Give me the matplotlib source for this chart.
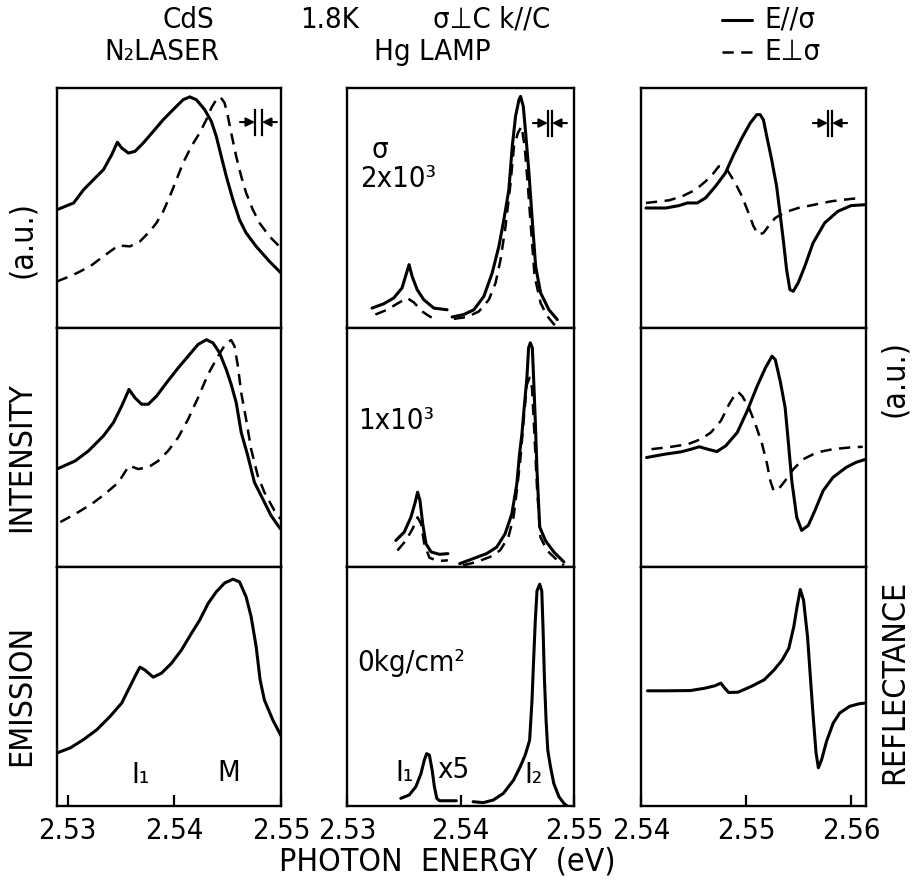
import matplotlib as mpl
mpl.use("Agg")
import matplotlib.pyplot as plt
from matplotlib import font_manager
from matplotlib.lines import Line2D

# ---- data (energy in eV, intensity / reflectance in a.u.) ----
# N2 laser excitation, left column (top: 2x10^3, middle: 1x10^3, bottom: 0 kg/cm2)
las_hi_par_e = [2.5290, 2.53056, 2.53149, 2.53242, 2.53336, 2.53413, 2.53466, 2.53507, 2.53569, 2.53631,
                2.53709, 2.53802, 2.53896, 2.53989, 2.54082, 2.54144, 2.54207, 2.54284, 2.54347, 2.54393,
                2.5444, 2.54487, 2.54549, 2.54611, 2.54673, 2.54767, 2.54891, 2.5500]
las_hi_par_i = [49.3, 52.1, 57.6, 61.8, 66.0, 72.2, 77.4, 75.0, 72.9, 73.6, 77.1, 81.9, 86.8, 91.0, 95.1,
                96.3, 95.1, 91.0, 86.1, 79.9, 71.5, 63.2, 53.5, 45.1, 39.6, 34.0, 27.8, 22.9]
las_hi_perp_e = [2.5290, 2.53056, 2.53211, 2.53336, 2.53476, 2.53584, 2.53678, 2.53771, 2.53833, 2.53896,
                 2.53958, 2.54020, 2.54082, 2.54160, 2.54238, 2.54300, 2.54347, 2.54393, 2.54431, 2.54471,
                 2.54502, 2.54533, 2.54580, 2.54627, 2.54673, 2.54736, 2.54798, 2.54891, 2.5500]
las_hi_perp_i = [19.4, 22.2, 25.7, 29.9, 34.4, 34.0, 36.1, 40.3, 43.8, 48.6, 54.9, 61.8, 68.8, 75.7, 81.3,
                 86.8, 91.7, 95.1, 96.3, 93.8, 88.2, 81.3, 71.5, 63.2, 56.3, 49.3, 43.8, 38.2, 33.3]

las_mid_par_e = [2.5290, 2.53071, 2.53196, 2.53336, 2.53429, 2.53507, 2.53575, 2.53631, 2.53693, 2.53756,
                 2.53833, 2.53927, 2.54036, 2.54129, 2.54222, 2.54300, 2.54362, 2.54424, 2.54487, 2.54533,
                 2.54580, 2.54627, 2.54689, 2.54751, 2.54813, 2.54907, 2.54994]
las_mid_par_i = [41.0, 44.4, 48.6, 54.9, 60.4, 67.4, 74.3, 70.8, 68.1, 68.1, 71.5, 77.1, 83.3, 88.2, 93.1,
                 95.1, 93.8, 89.6, 82.6, 76.4, 68.8, 56.3, 46.5, 35.4, 29.9, 21.5, 16.0]
las_mid_perp_e = [2.52931, 2.53071, 2.53227, 2.53351, 2.53476, 2.53575, 2.53662, 2.53756, 2.53849, 2.53942,
                  2.54036, 2.54129, 2.54222, 2.54316, 2.54409, 2.54487, 2.54533, 2.54564, 2.54596, 2.54627,
                  2.54673, 2.54720, 2.54782, 2.54844, 2.54938, 2.54994]
las_mid_perp_i = [18.8, 22.2, 26.4, 30.6, 35.4, 42.4, 41.0, 41.7, 44.4, 48.6, 54.2, 61.8, 70.8, 80.6, 88.2,
                  93.8, 94.9, 92.4, 84.0, 72.9, 61.8, 49.3, 38.2, 31.3, 23.6, 20.1]

las_low_par_e = [2.5290, 2.53024, 2.53149, 2.53273, 2.53398, 2.53507, 2.53584, 2.53647, 2.53678, 2.53724,
                 2.53802, 2.53880, 2.53973, 2.54067, 2.54160, 2.54238, 2.54316, 2.54393, 2.54471, 2.54549,
                 2.54611, 2.54673, 2.54720, 2.54767, 2.54804, 2.54844, 2.54922, 2.5500]
las_low_par_i = [22.2, 24.3, 27.8, 31.9, 37.5, 43.1, 50.0, 55.6, 58.1, 56.9, 53.9, 55.6, 59.7, 65.3, 72.2,
                 77.8, 84.7, 89.6, 93.3, 94.9, 93.8, 87.5, 79.2, 66.7, 52.8, 44.4, 36.1, 29.4]

# Hg lamp excitation, middle column (I1 and I2 lines)
hg_hi_i1_par_e = [2.53221, 2.53324, 2.53412, 2.53485, 2.53529, 2.53547, 2.53574, 2.53618, 2.53676, 2.53765, 2.53882]
hg_hi_i1_par_i = [8.3, 10.1, 12.5, 16.7, 23.6, 26.4, 21.5, 16.0, 11.8, 8.3, 7.6]
hg_hi_i1_perp_e = [2.53250, 2.53353, 2.53441, 2.53529, 2.53588, 2.53662, 2.53735, 2.53809]
hg_hi_i1_perp_i = [5.6, 7.6, 10.1, 12.5, 10.7, 6.9, 4.6, 3.8]
hg_hi_i2_par_e = [2.53926, 2.54029, 2.54118, 2.54206, 2.54279, 2.54338, 2.54382, 2.54426, 2.54456, 2.54485,
                  2.54515, 2.54529, 2.54553, 2.54574, 2.54603, 2.54632, 2.54662, 2.54706, 2.54779, 2.54853]
hg_hi_i2_par_i = [4.6, 5.6, 7.6, 13.2, 22.9, 34.0, 45.1, 57.6, 75.7, 88.2, 95.1, 96.5, 92.4, 81.3, 64.6,
                  45.1, 25.7, 14.6, 7.6, 3.5]
hg_hi_i2_perp_e = [2.53941, 2.54059, 2.54162, 2.54250, 2.54309, 2.54353, 2.54397, 2.54441, 2.54471, 2.54506,
                   2.54538, 2.54565, 2.54594, 2.54624, 2.54653, 2.54706, 2.54765, 2.54838]
hg_hi_i2_perp_i = [3.8, 4.6, 6.9, 11.8, 18.8, 28.5, 42.4, 60.4, 75.7, 81.3, 84.0, 75.7, 59.0, 39.6, 21.5,
                   10.4, 4.9, 0.7]

hg_mid_i1_par_e = [2.53430, 2.53504, 2.53563, 2.53601, 2.53622, 2.53643, 2.53667, 2.53696, 2.53741, 2.53815, 2.53889]
hg_mid_i1_par_i = [11.1, 14.6, 20.8, 27.1, 31.3, 27.8, 18.1, 9.7, 6.3, 5.3, 5.6]
hg_mid_i1_perp_e = [2.53444, 2.53519, 2.53578, 2.53622, 2.53652, 2.53681, 2.53726, 2.53800, 2.53889]
hg_mid_i1_perp_i = [6.9, 11.1, 16.0, 20.8, 18.1, 9.7, 3.9, 2.5, 2.8]
hg_mid_i2_par_e = [2.53993, 2.54111, 2.54230, 2.54319, 2.54393, 2.54452, 2.54496, 2.54520, 2.54541, 2.54561,
                   2.54585, 2.54600, 2.54615, 2.54633, 2.54644, 2.54659, 2.54674, 2.54698, 2.54748, 2.54822, 2.54911]
hg_mid_i2_par_i = [1.4, 3.5, 5.6, 8.3, 13.9, 22.2, 34.7, 47.2, 55.6, 66.7, 79.2, 91.7, 93.8, 91.7, 79.2,
                   61.1, 40.3, 16.7, 11.1, 6.3, 2.1]
hg_mid_i2_perp_e = [2.54022, 2.54141, 2.54259, 2.54348, 2.54422, 2.54467, 2.54496, 2.54526, 2.54556, 2.54585,
                    2.54609, 2.54630, 2.54650, 2.54674, 2.54704, 2.54763, 2.54837, 2.54911]
hg_mid_i2_perp_i = [0.7, 2.1, 4.2, 6.9, 12.5, 20.8, 31.9, 44.4, 61.1, 76.4, 79.2, 75.0, 56.9, 33.3, 12.5,
                    6.9, 3.5, 0.7]

hg_low_i1_e = [2.53474, 2.53548, 2.53607, 2.53652, 2.53681, 2.53702, 2.53726, 2.53750, 2.53770, 2.53791,
               2.53815, 2.53889, 2.53963]
hg_low_i1_i = [3.2, 4.6, 8.1, 13.6, 19.2, 21.9, 21.3, 15.0, 8.1, 3.2, 2.2, 2.2, 2.2]
hg_low_i2_e = [2.54111, 2.54200, 2.54289, 2.54378, 2.54467, 2.54526, 2.54570, 2.54609, 2.54630, 2.54644,
               2.54659, 2.54674, 2.54698, 2.54716, 2.54727, 2.54739, 2.54754, 2.54769, 2.54793, 2.54822,
               2.54867, 2.54911, 2.54941]
hg_low_i2_i = [1.8, 1.4, 2.5, 5.3, 10.8, 16.4, 21.3, 27.5, 44.2, 60.8, 77.5, 90.0, 92.8, 90.0, 74.7, 53.9,
               35.8, 23.3, 16.4, 9.4, 3.9, 1.1, 0.0]

# reflectance, right column
ref_hi_par_e = [2.54047, 2.54236, 2.54362, 2.54441, 2.54535, 2.54614, 2.54708, 2.54803, 2.54881, 2.54960,
                2.55039, 2.55101, 2.55133, 2.55164, 2.55196, 2.55243, 2.55290, 2.55322, 2.55353, 2.55385,
                2.55416, 2.55448, 2.55495, 2.55558, 2.55636, 2.55747, 2.55872, 2.55998, 2.56140]
ref_hi_par_r = [50.0, 50.0, 51.0, 52.1, 52.1, 54.2, 59.0, 64.6, 72.2, 79.2, 85.4, 88.9, 88.9, 86.8, 79.9,
                70.1, 59.0, 47.9, 36.8, 24.3, 16.0, 15.3, 18.8, 25.7, 35.4, 43.8, 48.6, 51.0, 51.4]
ref_hi_perp_e = [2.54047, 2.54267, 2.54393, 2.54519, 2.54614, 2.54692, 2.54740, 2.54818, 2.54897, 2.54960,
                 2.55023, 2.55070, 2.55117, 2.55164, 2.55212, 2.55275, 2.55369, 2.55495, 2.55652, 2.55810,
                 2.55998, 2.56108]
ref_hi_perp_r = [52.1, 53.2, 54.9, 57.6, 61.1, 64.6, 67.4, 66.0, 60.4, 54.9, 47.9, 42.4, 38.9, 39.6, 42.4,
                 45.8, 48.2, 50.0, 51.4, 52.8, 53.8, 54.2]

ref_mid_par_e = [2.54053, 2.54226, 2.54383, 2.54477, 2.54555, 2.54634, 2.54722, 2.54806, 2.54916, 2.55010,
                 2.55105, 2.55183, 2.55246, 2.55277, 2.55324, 2.55371, 2.55403, 2.55434, 2.55481, 2.55528,
                 2.55591, 2.55654, 2.55732, 2.55826, 2.55952, 2.56046, 2.56140]
ref_mid_par_r = [45.8, 47.2, 48.2, 49.3, 50.3, 49.3, 48.3, 50.7, 56.3, 65.3, 75.7, 83.3, 88.2, 86.8, 77.8,
                 66.7, 51.4, 36.1, 20.8, 15.3, 17.4, 23.6, 31.9, 37.5, 41.7, 43.8, 45.1]
ref_mid_perp_e = [2.54100, 2.54289, 2.54446, 2.54571, 2.54665, 2.54759, 2.54838, 2.54885, 2.54923, 2.54963,
                  2.55026, 2.55089, 2.55152, 2.55199, 2.55230, 2.55261, 2.55309, 2.55371, 2.55450, 2.55544,
                  2.55669, 2.55826, 2.55983, 2.56109]
ref_mid_perp_r = [49.3, 50.3, 51.4, 53.5, 56.3, 61.1, 68.1, 71.5, 73.3, 71.5, 66.7, 59.7, 51.4, 43.1, 36.1,
                  31.9, 32.6, 36.1, 41.0, 45.1, 47.9, 49.3, 50.0, 50.3]

ref_low_par_e = [2.54062, 2.54234, 2.54469, 2.54609, 2.54703, 2.54759, 2.54797, 2.54834, 2.54922, 2.55047,
                 2.55172, 2.55265, 2.55343, 2.55406, 2.55453, 2.55484, 2.55515, 2.55546, 2.55584, 2.55615,
                 2.55640, 2.55665, 2.55687, 2.55718, 2.55765, 2.55828, 2.55890, 2.55984, 2.56077, 2.56140]
ref_low_par_r = [48.2, 48.2, 48.3, 49.3, 50.3, 51.4, 49.3, 47.5, 47.6, 50.0, 52.8, 56.9, 61.1, 66.0, 75.0,
                 83.3, 90.6, 86.1, 70.8, 51.4, 36.1, 22.2, 16.0, 19.4, 27.1, 34.7, 38.9, 41.7, 42.8, 43.1]

col_xlims = [(2.529, 2.550), (2.530, 2.550), (2.540, 2.5614)]
col_ticks = [[2.53, 2.54, 2.55], [2.53, 2.54, 2.55], [2.54, 2.55, 2.56]]

# ---- fonts: prefer a narrow face, the original lettering is condensed ----
fonts = font_manager.fontManager.ttflist
names = {f.name for f in fonts}
if "Liberation Sans Narrow" in names:
    plt.rcParams["font.family"] = ["Liberation Sans Narrow", "DejaVu Sans"]
    FS, FS_LAB = 24, 26
elif any(f.name == "DejaVu Sans" and f.stretch == "condensed" for f in fonts):
    plt.rcParams["font.family"] = ["DejaVu Sans"]
    plt.rcParams["font.stretch"] = "condensed"
    FS, FS_LAB = 21, 23
else:
    plt.rcParams["font.family"] = ["DejaVu Sans"]
    FS, FS_LAB = 20, 22

W_PX, H_PX = 918, 891
fig = plt.figure(figsize=(W_PX / 100, H_PX / 100), dpi=100)


def fxy(px, py):
    return px / W_PX, 1 - py / H_PX


COL_LEFT = [57, 347, 641]
COL_W = [224, 227, 225]
ROW_TOP = [88, 328, 567]
ROW_H = [240, 239, 239]

axes = []
for r in range(3):
    row = []
    for c in range(3):
        x0, y1 = fxy(COL_LEFT[c], ROW_TOP[r] + ROW_H[r])
        ax = fig.add_axes([x0, y1, COL_W[c] / W_PX, ROW_H[r] / H_PX])
        ax.set_xlim(*col_xlims[c])
        ax.set_ylim(0, 100)
        ax.set_yticks([])
        for s in ax.spines.values():
            s.set_linewidth(1.7)
        if r == 2:
            ax.set_xticks(col_ticks[c])
            ax.set_xticklabels([f"{t:.2f}" for t in col_ticks[c]])
            ax.tick_params(axis="x", direction="in", length=8, width=1.6, labelsize=FS, pad=8)
        else:
            ax.set_xticks([])
        row.append(ax)
    axes.append(row)

SOLID = dict(color="black", lw=2.2, solid_joinstyle="round", solid_capstyle="round")
DASH = dict(color="black", lw=1.8, dashes=(4.5, 3))

# left column
axes[0][0].plot(las_hi_par_e, las_hi_par_i, **SOLID)
axes[0][0].plot(las_hi_perp_e, las_hi_perp_i, **DASH)
axes[1][0].plot(las_mid_par_e, las_mid_par_i, **SOLID)
axes[1][0].plot(las_mid_perp_e, las_mid_perp_i, **DASH)
axes[2][0].plot(las_low_par_e, las_low_par_i, **SOLID)

# middle column
axes[0][1].plot(hg_hi_i1_par_e, hg_hi_i1_par_i, **SOLID)
axes[0][1].plot(hg_hi_i1_perp_e, hg_hi_i1_perp_i, **DASH)
axes[0][1].plot(hg_hi_i2_par_e, hg_hi_i2_par_i, **SOLID)
axes[0][1].plot(hg_hi_i2_perp_e, hg_hi_i2_perp_i, **DASH)
axes[1][1].plot(hg_mid_i1_par_e, hg_mid_i1_par_i, **SOLID)
axes[1][1].plot(hg_mid_i1_perp_e, hg_mid_i1_perp_i, **DASH)
axes[1][1].plot(hg_mid_i2_par_e, hg_mid_i2_par_i, **SOLID)
axes[1][1].plot(hg_mid_i2_perp_e, hg_mid_i2_perp_i, **DASH)
axes[2][1].plot(hg_low_i1_e, hg_low_i1_i, **SOLID)
axes[2][1].plot(hg_low_i2_e, hg_low_i2_i, **SOLID)

# right column
axes[0][2].plot(ref_hi_par_e, ref_hi_par_r, **SOLID)
axes[0][2].plot(ref_hi_perp_e, ref_hi_perp_r, **DASH)
axes[1][2].plot(ref_mid_par_e, ref_mid_par_r, **SOLID)
axes[1][2].plot(ref_mid_perp_e, ref_mid_perp_r, **DASH)
axes[2][2].plot(ref_low_par_e, ref_low_par_r, **SOLID)


def resolution_mark(ax, x0, b1, b2, x1, yc, half=0.052):
    arrow = dict(arrowstyle="-|>", color="black", lw=1.5, mutation_scale=13, shrinkA=0, shrinkB=0)
    ax.annotate("", xy=(b1, yc), xytext=(x0, yc), xycoords="axes fraction", arrowprops=arrow)
    ax.annotate("", xy=(b2, yc), xytext=(x1, yc), xycoords="axes fraction", arrowprops=arrow)
    for b in (b1, b2):
        ax.plot([b, b], [yc - half, yc + half], transform=ax.transAxes, color="black", lw=1.6)


resolution_mark(axes[0][0], 0.817, 0.884, 0.915, 0.982, 0.858)
resolution_mark(axes[0][1], 0.819, 0.885, 0.903, 0.969, 0.854)
resolution_mark(axes[0][2], 0.764, 0.831, 0.849, 0.916, 0.854)

# panel annotations
axes[0][1].text(0.145, 0.74, "σ", transform=axes[0][1].transAxes, fontsize=FS, ha="center", va="center")
axes[0][1].text(0.057, 0.62, "2x10³", transform=axes[0][1].transAxes, fontsize=FS, ha="left", va="center")
axes[1][1].text(0.048, 0.61, "1x10³", transform=axes[1][1].transAxes, fontsize=FS, ha="left", va="center")
axes[2][1].text(0.044, 0.60, "0kg/cm²", transform=axes[2][1].transAxes, fontsize=FS, ha="left", va="center")
axes[2][1].text(0.255, 0.14, "I₁", transform=axes[2][1].transAxes, fontsize=FS, ha="center", va="center")
axes[2][1].text(0.47, 0.15, "x5", transform=axes[2][1].transAxes, fontsize=FS, ha="center", va="center")
axes[2][1].text(0.82, 0.13, "I₂", transform=axes[2][1].transAxes, fontsize=FS, ha="center", va="center")
axes[2][0].text(0.375, 0.13, "I₁", transform=axes[2][0].transAxes, fontsize=FS, ha="center", va="center")
axes[2][0].text(0.765, 0.14, "M", transform=axes[2][0].transAxes, fontsize=FS, ha="center", va="center")

# header
for label, px in [("CdS", 188), ("1.8K", 330), ("σ⊥C k//C", 492)]:
    fig.text(*fxy(px, 20), label, fontsize=FS, ha="center", va="center")
fig.text(*fxy(162, 52), "N₂LASER", fontsize=FS, ha="center", va="center")
fig.text(*fxy(432, 52), "Hg LAMP", fontsize=FS, ha="center", va="center")
for py, style, label in [(20, SOLID, "E//σ"), (52, DASH, "E⊥σ")]:
    (xa, ya), (xb, _) = fxy(722, py), fxy(752, py)
    fig.add_artist(Line2D([xa, xb], [ya, ya], transform=fig.transFigure, **style))
    fig.text(*fxy(764, py), label, fontsize=FS, ha="left", va="center")

# axis titles, word by word to keep the wide letter spacing of the original
for word, py in [("EMISSION", 695), ("INTENSITY", 457), ("(a.u.)", 240)]:
    fig.text(*fxy(22, py), word, fontsize=FS_LAB, rotation=90, ha="center", va="center")
for word, py in [("REFLECTANCE", 682), ("(a.u.)", 378)]:
    fig.text(*fxy(895, py), word, fontsize=FS_LAB, rotation=90, ha="center", va="center")
fig.text(*fxy(447, 862), "PHOTON  ENERGY  (eV)", fontsize=FS_LAB, ha="center", va="center")

fig.savefig("out.png", dpi=100)
